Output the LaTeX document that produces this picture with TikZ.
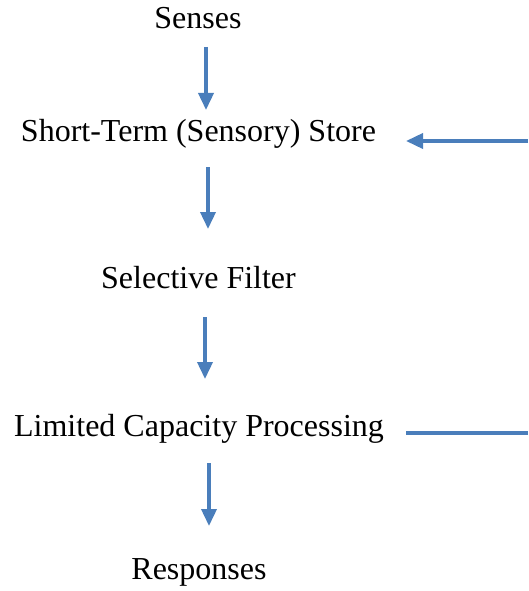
\documentclass[tikz,border=0pt]{standalone}
\usepackage{fontspec}
\setmainfont{Liberation Serif}
\usetikzlibrary{arrows.meta}
\definecolor{arrowblue}{HTML}{4A7EBB}
\begin{document}
\begin{tikzpicture}[x=1pt,y=-1pt,
  lbl/.style={anchor=base,inner sep=0pt,font=\fontsize{32}{38}\selectfont},
  flow/.style={draw=arrowblue,line width=3.6pt,-{Triangle[width=15pt,length=17pt]}},
  plain/.style={draw=arrowblue,line width=3.6pt}]
\useasboundingbox (0,0) rectangle (528,591);
\node[lbl] (senses) at (198,29) {Senses};
\node[lbl] (store) at (198.5,141) {Short-Term (Sensory) Store};
\node[lbl] (filter) at (198.5,288) {Selective Filter};
\node[lbl] (proc) at (199,436) {Limited Capacity Processing};
\node[lbl] (resp) at (199,579) {Responses};
\coordinate (a1s) at (206,47);  \coordinate (a1e) at (206,110);
\coordinate (a2s) at (208,167); \coordinate (a2e) at (208,229);
\coordinate (a3s) at (205,317); \coordinate (a3e) at (205,379);
\coordinate (a4s) at (209,463); \coordinate (a4e) at (209,526);
\coordinate (fbin) at (528,141); \coordinate (fbtip) at (406,141);
\coordinate (fbout) at (406,433); \coordinate (fbend) at (528,433);
\path[flow] (a1s) -- (a1e);
\path[flow] (a2s) -- (a2e);
\path[flow] (a3s) -- (a3e);
\path[flow] (a4s) -- (a4e);
\path[flow] (fbin) -- (fbtip);
\path[plain] (fbout) -- (fbend);
\end{tikzpicture}
\end{document}
